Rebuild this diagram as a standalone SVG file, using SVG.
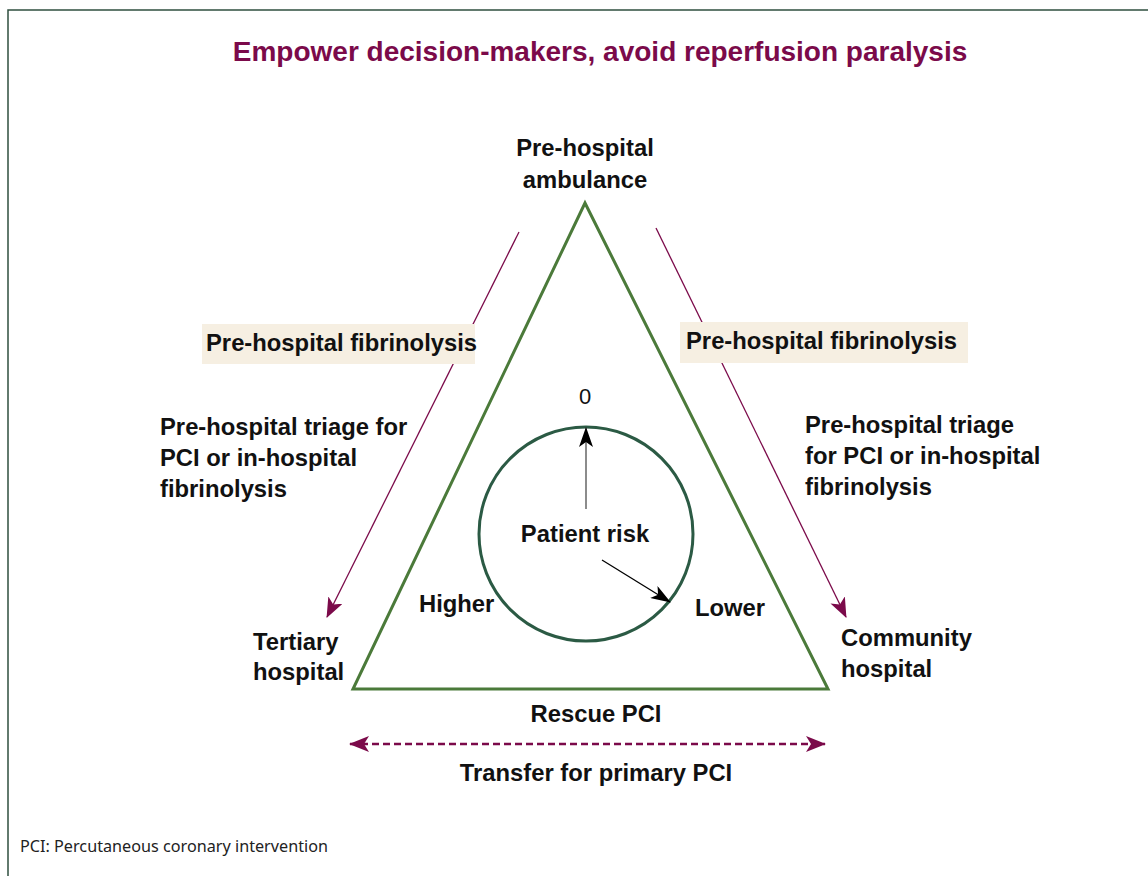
<svg xmlns="http://www.w3.org/2000/svg" width="1148" height="876" viewBox="0 0 1148 876">
  <defs>
    <style>
      .lbl { font-family: "Liberation Sans", Arial, sans-serif; font-weight: bold; font-size: 23.8px; fill: #111; }
      .title { font-family: "Liberation Sans", Arial, sans-serif; font-weight: bold; font-size: 28px; fill: #7b0a4a; }
      .note { font-family: "Noto Sans", "Liberation Sans", sans-serif; font-size: 17px; fill: #222; }
      .num { font-family: "Liberation Sans", Arial, sans-serif; font-size: 22px; fill: #111; }
      .tri { fill: none; stroke: #4b7a3a; stroke-width: 3; stroke-linejoin: miter; }
      .dial { fill: none; stroke: #2b5a44; stroke-width: 3; }
      .flow { stroke: #7b0a4a; stroke-width: 1.3; fill: none; }
      .transfer { stroke: #7b0a4a; stroke-width: 2.5; stroke-dasharray: 7 4; fill: none; }
      .box { fill: #f6efe2; }
    </style>
    <marker id="headPurple" viewBox="0 0 20 16" refX="19" refY="8" markerWidth="20" markerHeight="16" markerUnits="userSpaceOnUse" orient="auto-start-reverse">
      <path d="M0,0 L20,8 L0,16 L5,8 Z" fill="#7b0a4a"/>
    </marker>
    <marker id="headBlack" viewBox="0 0 20 14" refX="19" refY="7" markerWidth="20" markerHeight="14" markerUnits="userSpaceOnUse" orient="auto">
      <path d="M0,0 L20,7 L0,14 L5,7 Z" fill="#000"/>
    </marker>
  </defs>

  <!-- frame -->
  <rect width="1148" height="876" fill="#ffffff"/>
  <path d="M8,876 L8,10 L1148,10" fill="none" stroke="#2f4f3f" stroke-width="1.5"/>

  <text class="title" x="600" y="61" text-anchor="middle">Empower decision-makers, avoid reperfusion paralysis</text>

  <!-- care-setting triangle -->
  <g id="triangle">
    <polygon class="tri" points="585,203 353,689 828,689"/>
  </g>

  <g id="ambulance">
    <text class="lbl" x="585" y="156" text-anchor="middle">Pre-hospital</text>
    <text class="lbl" x="585" y="188" text-anchor="middle">ambulance</text>
  </g>

  <g id="tertiary">
    <text class="lbl" x="253" y="650">Tertiary</text>
    <text class="lbl" x="253" y="680">hospital</text>
  </g>

  <g id="community">
    <text class="lbl" x="841" y="646">Community</text>
    <text class="lbl" x="841" y="677">hospital</text>
  </g>

  <!-- connectors -->
  <g id="connectors">
    <line class="flow" x1="519" y1="232" x2="327" y2="617" marker-end="url(#headPurple)"/>
    <line class="flow" x1="656" y1="228" x2="846" y2="617" marker-end="url(#headPurple)"/>
    <line class="transfer" x1="350" y1="744" x2="825" y2="744" marker-start="url(#headPurple)" marker-end="url(#headPurple)"/>
  </g>

  <g id="fibrinolysis-left">
    <rect class="box" x="202" y="324" width="273" height="40"/>
    <text class="lbl" x="206" y="351">Pre-hospital fibrinolysis</text>
  </g>

  <g id="fibrinolysis-right">
    <rect class="box" x="680" y="322" width="288" height="41"/>
    <text class="lbl" x="686" y="349">Pre-hospital fibrinolysis</text>
  </g>

  <g id="triage-left">
    <text class="lbl" x="160" y="435">Pre-hospital triage for</text>
    <text class="lbl" x="160" y="466">PCI or in-hospital</text>
    <text class="lbl" x="160" y="497">fibrinolysis</text>
  </g>

  <g id="triage-right">
    <text class="lbl" x="805" y="433">Pre-hospital triage</text>
    <text class="lbl" x="805" y="464">for PCI or in-hospital</text>
    <text class="lbl" x="805" y="495">fibrinolysis</text>
  </g>

  <!-- patient risk dial -->
  <g id="risk-dial">
    <circle class="dial" cx="586" cy="534" r="107"/>
    <text class="num" x="585" y="404" text-anchor="middle">0</text>
    <line x1="586" y1="509" x2="586" y2="428" stroke="#666" stroke-width="1.5" marker-end="url(#headBlack)"/>
    <line x1="602" y1="560" x2="670" y2="602" stroke="#000" stroke-width="1.3" marker-end="url(#headBlack)"/>
    <text class="lbl" x="585" y="542" text-anchor="middle">Patient risk</text>
    <text class="lbl" x="419" y="612">Higher</text>
    <text class="lbl" x="695" y="616">Lower</text>
  </g>

  <g id="rescue">
    <text class="lbl" x="596" y="722" text-anchor="middle">Rescue PCI</text>
  </g>
  <g id="transfer">
    <text class="lbl" x="596" y="781" text-anchor="middle">Transfer for primary PCI</text>
  </g>

  <text class="note" x="20" y="852" textLength="308" lengthAdjust="spacingAndGlyphs">PCI: Percutaneous coronary intervention</text>
</svg>
